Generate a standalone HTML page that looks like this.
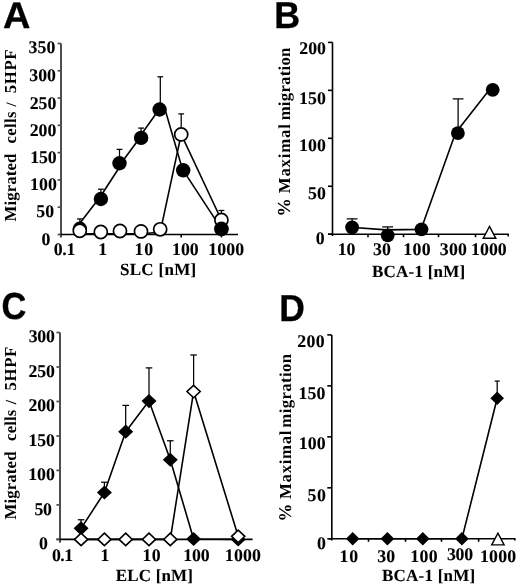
<!DOCTYPE html>
<html><head><meta charset="utf-8"><style>
html,body{margin:0;padding:0;background:#fff;}
body{width:520px;height:587px;overflow:hidden;}
svg{display:block;will-change:transform;}
text{fill:#000;text-rendering:geometricPrecision;}
</style></head><body>
<svg width="520" height="587" viewBox="0 0 520 587">
<rect width="520" height="587" fill="#fff"/>
<text transform="translate(3.08,27.78) scale(1.04,1.02)" font-size="36.5" font-family="&quot;Liberation Sans&quot;, sans-serif" font-weight="bold" stroke="#000" stroke-width="0.34">A</text>
<text transform="translate(15.5,221.39) rotate(-90)" font-size="16.8" letter-spacing="0.09" font-family="&quot;Liberation Serif&quot;, serif" font-weight="bold">Migrated</text>
<text transform="translate(15.5,143.47) rotate(-90)" font-size="16.8" letter-spacing="0.3" font-family="&quot;Liberation Serif&quot;, serif" font-weight="bold">cells</text>
<text transform="translate(15.5,106.56) rotate(-90)" font-size="14.44" letter-spacing="0" font-family="&quot;Liberation Serif&quot;, serif" font-weight="bold">/</text>
<text transform="translate(15.5,93.37) rotate(-90)" font-size="16.8" letter-spacing="0.66" font-family="&quot;Liberation Serif&quot;, serif" font-weight="bold">5HPF</text>
<line x1="79.9" y1="228.77" x2="79.9" y2="218.95" stroke="#000" stroke-width="1.25"/>
<line x1="77" y1="218.95" x2="82.8" y2="218.95" stroke="#000" stroke-width="1.25"/>
<line x1="100.9" y1="199.03" x2="100.9" y2="189.21" stroke="#000" stroke-width="1.25"/>
<line x1="98" y1="189.21" x2="103.8" y2="189.21" stroke="#000" stroke-width="1.25"/>
<line x1="119.5" y1="163.28" x2="119.5" y2="149.37" stroke="#000" stroke-width="1.25"/>
<line x1="116.6" y1="149.37" x2="122.4" y2="149.37" stroke="#000" stroke-width="1.25"/>
<line x1="141.1" y1="137.91" x2="141.1" y2="128.09" stroke="#000" stroke-width="1.25"/>
<line x1="138.2" y1="128.09" x2="144" y2="128.09" stroke="#000" stroke-width="1.25"/>
<line x1="160.3" y1="109.53" x2="160.3" y2="76.79" stroke="#000" stroke-width="1.25"/>
<line x1="157.4" y1="76.79" x2="163.2" y2="76.79" stroke="#000" stroke-width="1.25"/>
<line x1="181.2" y1="134.42" x2="181.2" y2="113.9" stroke="#000" stroke-width="1.25"/>
<line x1="178.3" y1="113.9" x2="184.1" y2="113.9" stroke="#000" stroke-width="1.25"/>
<line x1="221.4" y1="219.98" x2="221.4" y2="210.49" stroke="#000" stroke-width="1.25"/>
<line x1="218.5" y1="210.49" x2="224.3" y2="210.49" stroke="#000" stroke-width="1.25"/>
<line x1="61" y1="43.5" x2="61" y2="237.5" stroke="#4d4d4d" stroke-width="2.0"/>
<line x1="59.5" y1="234.5" x2="238" y2="234.5" stroke="#000" stroke-width="1.6"/>
<line x1="57.6" y1="234.5" x2="61" y2="234.5" stroke="#4d4d4d" stroke-width="1.7"/>
<line x1="57.6" y1="207.21" x2="61" y2="207.21" stroke="#4d4d4d" stroke-width="1.7"/>
<line x1="57.6" y1="179.93" x2="61" y2="179.93" stroke="#4d4d4d" stroke-width="1.7"/>
<line x1="57.6" y1="152.64" x2="61" y2="152.64" stroke="#4d4d4d" stroke-width="1.7"/>
<line x1="57.6" y1="125.36" x2="61" y2="125.36" stroke="#4d4d4d" stroke-width="1.7"/>
<line x1="57.6" y1="98.07" x2="61" y2="98.07" stroke="#4d4d4d" stroke-width="1.7"/>
<line x1="57.6" y1="70.79" x2="61" y2="70.79" stroke="#4d4d4d" stroke-width="1.7"/>
<line x1="57.6" y1="43.5" x2="61" y2="43.5" stroke="#4d4d4d" stroke-width="1.7"/>
<text x="28.53" y="53.43" font-size="17.8" letter-spacing="0.12" font-family="&quot;Liberation Serif&quot;, serif" font-weight="bold" stroke="#000" stroke-width="0.1">350</text>
<text x="29.23" y="81.43" font-size="17.8" letter-spacing="0.02" font-family="&quot;Liberation Serif&quot;, serif" font-weight="bold" stroke="#000" stroke-width="0.1">300</text>
<text x="29.75" y="108.93" font-size="17.8" letter-spacing="-0.04" font-family="&quot;Liberation Serif&quot;, serif" font-weight="bold" stroke="#000" stroke-width="0.1">250</text>
<text x="29.75" y="135.53" font-size="17.8" letter-spacing="-0.04" font-family="&quot;Liberation Serif&quot;, serif" font-weight="bold" stroke="#000" stroke-width="0.1">200</text>
<text x="30.27" y="162.93" font-size="17.8" letter-spacing="-0.2" font-family="&quot;Liberation Serif&quot;, serif" font-weight="bold" stroke="#000" stroke-width="0.1">150</text>
<text x="30.07" y="190.13" font-size="17.8" letter-spacing="0.05" font-family="&quot;Liberation Serif&quot;, serif" font-weight="bold" stroke="#000" stroke-width="0.1">100</text>
<text x="36.19" y="217.43" font-size="17.8" letter-spacing="0.29" font-family="&quot;Liberation Serif&quot;, serif" font-weight="bold" stroke="#000" stroke-width="0.1">50</text>
<text x="41.62" y="244.73" font-size="17.8" letter-spacing="0" font-family="&quot;Liberation Serif&quot;, serif" font-weight="bold" stroke="#000" stroke-width="0.1">0</text>
<line x1="100.8" y1="234.5" x2="100.8" y2="237.5" stroke="#000" stroke-width="1.6"/>
<line x1="141" y1="234.5" x2="141" y2="237.5" stroke="#000" stroke-width="1.6"/>
<line x1="181.2" y1="234.5" x2="181.2" y2="237.5" stroke="#000" stroke-width="1.6"/>
<line x1="221.4" y1="234.5" x2="221.4" y2="237.5" stroke="#000" stroke-width="1.6"/>
<text x="53.72" y="254.75" font-size="17.8" letter-spacing="-0.28" font-family="&quot;Liberation Serif&quot;, serif" font-weight="bold" stroke="#000" stroke-width="0.1">0.1</text>
<text x="98.17" y="255" font-size="17.8" letter-spacing="0" font-family="&quot;Liberation Serif&quot;, serif" font-weight="bold" stroke="#000" stroke-width="0.1">1</text>
<text x="134.47" y="254.83" font-size="17.8" letter-spacing="0.9" font-family="&quot;Liberation Serif&quot;, serif" font-weight="bold" stroke="#000" stroke-width="0.1">10</text>
<text x="172.07" y="254.83" font-size="17.8" letter-spacing="-0.05" font-family="&quot;Liberation Serif&quot;, serif" font-weight="bold" stroke="#000" stroke-width="0.1">100</text>
<text x="208.27" y="254.83" font-size="17.8" letter-spacing="0.07" font-family="&quot;Liberation Serif&quot;, serif" font-weight="bold" stroke="#000" stroke-width="0.1">1000</text>
<text x="119.9" y="275.33" font-size="17" letter-spacing="0.32" font-family="&quot;Liberation Serif&quot;, serif" font-weight="bold" stroke="#000" stroke-width="0.1">SLC [nM]</text>
<line x1="75.6" y1="228.8" x2="98.5" y2="199" stroke="#000" stroke-width="1.6"/>
<line x1="98.8" y1="199" x2="121.9" y2="163.5" stroke="#000" stroke-width="1.6"/>
<line x1="120.9" y1="163.5" x2="139.5" y2="138.2" stroke="#000" stroke-width="1.6"/>
<line x1="138.6" y1="138.2" x2="159.2" y2="109.3" stroke="#000" stroke-width="1.6"/>
<line x1="165" y1="109.3" x2="182.7" y2="170.1" stroke="#000" stroke-width="1.6"/>
<line x1="183.2" y1="170.32" x2="221.5" y2="228.82" stroke="#000" stroke-width="1.6"/>
<polyline points="79.78,233.7 100.8,233.7 119.98,233.7 141,233.7 160.18,232.3 181.2,134.42 221.4,219.98" fill="none" stroke="#000" stroke-width="1.6" stroke-linejoin="round"/>
<circle cx="79.9" cy="228.77" r="7.2" fill="#000"/>
<circle cx="100.9" cy="199.03" r="7.2" fill="#000"/>
<circle cx="119.5" cy="163.28" r="7.2" fill="#000"/>
<circle cx="141.1" cy="137.91" r="7.2" fill="#000"/>
<circle cx="159.6" cy="109.53" r="7.2" fill="#000"/>
<circle cx="183.2" cy="170.32" r="7.2" fill="#000"/>
<circle cx="221.5" cy="228.82" r="7.2" fill="#000"/>
<circle cx="79.78" cy="230.8" r="6.55" fill="#fff" stroke="#000" stroke-width="1.7"/>
<circle cx="100.8" cy="232" r="6.55" fill="#fff" stroke="#000" stroke-width="1.7"/>
<circle cx="119.98" cy="231" r="6.55" fill="#fff" stroke="#000" stroke-width="1.7"/>
<circle cx="141" cy="231.4" r="6.55" fill="#fff" stroke="#000" stroke-width="1.7"/>
<circle cx="160.18" cy="229.3" r="6.55" fill="#fff" stroke="#000" stroke-width="1.7"/>
<circle cx="181.2" cy="134.42" r="6.55" fill="#fff" stroke="#000" stroke-width="1.7"/>
<circle cx="221.4" cy="219.98" r="6.55" fill="#fff" stroke="#000" stroke-width="1.7"/>
<circle cx="221.4" cy="228.82" r="7.2" fill="#000"/>
<text transform="translate(274.19,28.07) scale(0.98,1.03)" font-size="36.5" font-family="&quot;Liberation Sans&quot;, sans-serif" font-weight="bold" stroke="#000" stroke-width="0.36">B</text>
<text transform="translate(289.8,216.58) rotate(-90)" font-size="18.29" letter-spacing="0" font-family="&quot;Liberation Serif&quot;, serif" font-weight="bold">%</text>
<text transform="translate(289.8,193.19) rotate(-90)" font-size="16.8" letter-spacing="0.78" font-family="&quot;Liberation Serif&quot;, serif" font-weight="bold">Maximal</text>
<text transform="translate(289.8,120.35) rotate(-90)" font-size="16.8" letter-spacing="0.24" font-family="&quot;Liberation Serif&quot;, serif" font-weight="bold">migration</text>
<line x1="352.1" y1="227.39" x2="352.1" y2="218.86" stroke="#000" stroke-width="1.25"/>
<line x1="346.7" y1="218.86" x2="357.5" y2="218.86" stroke="#000" stroke-width="1.25"/>
<line x1="387.7" y1="235.54" x2="387.7" y2="226.91" stroke="#000" stroke-width="1.25"/>
<line x1="382.3" y1="226.91" x2="393.1" y2="226.91" stroke="#000" stroke-width="1.25"/>
<line x1="458.1" y1="133.41" x2="458.1" y2="98.89" stroke="#000" stroke-width="1.25"/>
<line x1="452.7" y1="98.89" x2="463.5" y2="98.89" stroke="#000" stroke-width="1.25"/>
<line x1="332.5" y1="42.4" x2="332.5" y2="236" stroke="#000" stroke-width="1.6"/>
<line x1="328" y1="234.2" x2="509" y2="234.2" stroke="#000" stroke-width="1.6"/>
<line x1="328" y1="234.2" x2="332.5" y2="234.2" stroke="#000" stroke-width="1.6"/>
<line x1="328" y1="186.25" x2="332.5" y2="186.25" stroke="#000" stroke-width="1.6"/>
<line x1="328" y1="138.3" x2="332.5" y2="138.3" stroke="#000" stroke-width="1.6"/>
<line x1="328" y1="90.35" x2="332.5" y2="90.35" stroke="#000" stroke-width="1.6"/>
<line x1="328" y1="42.4" x2="332.5" y2="42.4" stroke="#000" stroke-width="1.6"/>
<text x="299.35" y="54.43" font-size="17.8" letter-spacing="-0.04" font-family="&quot;Liberation Serif&quot;, serif" font-weight="bold" stroke="#000" stroke-width="0.1">200</text>
<text x="299.07" y="103.83" font-size="17.8" letter-spacing="0.1" font-family="&quot;Liberation Serif&quot;, serif" font-weight="bold" stroke="#000" stroke-width="0.1">150</text>
<text x="299.07" y="151.03" font-size="17.8" letter-spacing="0.1" font-family="&quot;Liberation Serif&quot;, serif" font-weight="bold" stroke="#000" stroke-width="0.1">100</text>
<text x="308.09" y="199.43" font-size="17.8" letter-spacing="0.09" font-family="&quot;Liberation Serif&quot;, serif" font-weight="bold" stroke="#000" stroke-width="0.1">50</text>
<text x="315.72" y="244.03" font-size="17.8" letter-spacing="0" font-family="&quot;Liberation Serif&quot;, serif" font-weight="bold" stroke="#000" stroke-width="0.1">0</text>
<line x1="368" y1="234.2" x2="368" y2="237.2" stroke="#000" stroke-width="1.6"/>
<line x1="403.5" y1="234.2" x2="403.5" y2="237.2" stroke="#000" stroke-width="1.6"/>
<line x1="438.5" y1="234.2" x2="438.5" y2="237.2" stroke="#000" stroke-width="1.6"/>
<line x1="475.5" y1="234.2" x2="475.5" y2="237.2" stroke="#000" stroke-width="1.6"/>
<line x1="508.2" y1="234.2" x2="508.2" y2="236.4" stroke="#000" stroke-width="1.6"/>
<text x="337.87" y="255.43" font-size="17.8" letter-spacing="-0.3" font-family="&quot;Liberation Serif&quot;, serif" font-weight="bold" stroke="#000" stroke-width="0.1">10</text>
<text x="372.93" y="255.43" font-size="17.8" letter-spacing="0.25" font-family="&quot;Liberation Serif&quot;, serif" font-weight="bold" stroke="#000" stroke-width="0.1">30</text>
<text x="403.27" y="255.43" font-size="17.8" letter-spacing="0.4" font-family="&quot;Liberation Serif&quot;, serif" font-weight="bold" stroke="#000" stroke-width="0.1">100</text>
<text x="439.83" y="255.43" font-size="17.8" letter-spacing="0.17" font-family="&quot;Liberation Serif&quot;, serif" font-weight="bold" stroke="#000" stroke-width="0.1">300</text>
<text x="471.07" y="255.43" font-size="17.8" letter-spacing="0.03" font-family="&quot;Liberation Serif&quot;, serif" font-weight="bold" stroke="#000" stroke-width="0.1">1000</text>
<text x="371.92" y="276.83" font-size="17" letter-spacing="0.24" font-family="&quot;Liberation Serif&quot;, serif" font-weight="bold" stroke="#000" stroke-width="0.1">BCA-1 [nM]</text>
<polyline points="351,227.3 386,229.9 421,229.4 455.5,133.1 489.4,89.8" fill="none" stroke="#000" stroke-width="1.6" stroke-linejoin="round"/>
<circle cx="352.1" cy="227.3" r="6.9" fill="#000"/>
<circle cx="387.7" cy="235.3" r="6.9" fill="#000"/>
<circle cx="421.5" cy="229.3" r="6.9" fill="#000"/>
<circle cx="457.9" cy="133.1" r="6.9" fill="#000"/>
<circle cx="492.7" cy="89.8" r="6.9" fill="#000"/>
<polygon points="489.5,226.4 495.8,238.3 483.2,238.3" fill="#fff" stroke="#000" stroke-width="1.4" stroke-linejoin="miter"/>
<text transform="translate(1.62,318.81) scale(0.94,1.03)" font-size="36.5" font-family="&quot;Liberation Sans&quot;, sans-serif" font-weight="bold" stroke="#000" stroke-width="0.37">C</text>
<text transform="translate(15.8,519.59) rotate(-90)" font-size="16.8" letter-spacing="0.14" font-family="&quot;Liberation Serif&quot;, serif" font-weight="bold">Migrated</text>
<text transform="translate(15.8,440.97) rotate(-90)" font-size="16.8" letter-spacing="0.15" font-family="&quot;Liberation Serif&quot;, serif" font-weight="bold">cells</text>
<text transform="translate(15.8,404.25) rotate(-90)" font-size="15.44" letter-spacing="0" font-family="&quot;Liberation Serif&quot;, serif" font-weight="bold">/</text>
<text transform="translate(15.8,390.57) rotate(-90)" font-size="16.8" letter-spacing="0.66" font-family="&quot;Liberation Serif&quot;, serif" font-weight="bold">5HPF</text>
<line x1="81.08" y1="528.37" x2="81.08" y2="519.74" stroke="#000" stroke-width="1.25"/>
<line x1="77.78" y1="519.74" x2="84.38" y2="519.74" stroke="#000" stroke-width="1.25"/>
<line x1="104.4" y1="492.5" x2="104.4" y2="482.23" stroke="#000" stroke-width="1.25"/>
<line x1="101.1" y1="482.23" x2="107.7" y2="482.23" stroke="#000" stroke-width="1.25"/>
<line x1="125.68" y1="431.67" x2="125.68" y2="405.4" stroke="#000" stroke-width="1.25"/>
<line x1="122.38" y1="405.4" x2="128.98" y2="405.4" stroke="#000" stroke-width="1.25"/>
<line x1="149" y1="401.05" x2="149" y2="367.88" stroke="#000" stroke-width="1.25"/>
<line x1="145.7" y1="367.88" x2="152.3" y2="367.88" stroke="#000" stroke-width="1.25"/>
<line x1="170.28" y1="459.74" x2="170.28" y2="440.78" stroke="#000" stroke-width="1.25"/>
<line x1="166.98" y1="440.78" x2="173.58" y2="440.78" stroke="#000" stroke-width="1.25"/>
<line x1="193.6" y1="391.54" x2="193.6" y2="354.98" stroke="#000" stroke-width="1.25"/>
<line x1="190.3" y1="354.98" x2="196.9" y2="354.98" stroke="#000" stroke-width="1.25"/>
<line x1="60" y1="332.5" x2="60" y2="542.8" stroke="#4d4d4d" stroke-width="2.0"/>
<line x1="56.5" y1="539.4" x2="252.6" y2="539.4" stroke="#000" stroke-width="1.6"/>
<line x1="56.4" y1="539.4" x2="60" y2="539.4" stroke="#4d4d4d" stroke-width="1.7"/>
<line x1="56.4" y1="504.92" x2="60" y2="504.92" stroke="#4d4d4d" stroke-width="1.7"/>
<line x1="56.4" y1="470.43" x2="60" y2="470.43" stroke="#4d4d4d" stroke-width="1.7"/>
<line x1="56.4" y1="435.95" x2="60" y2="435.95" stroke="#4d4d4d" stroke-width="1.7"/>
<line x1="56.4" y1="401.47" x2="60" y2="401.47" stroke="#4d4d4d" stroke-width="1.7"/>
<line x1="56.4" y1="366.98" x2="60" y2="366.98" stroke="#4d4d4d" stroke-width="1.7"/>
<line x1="56.4" y1="332.5" x2="60" y2="332.5" stroke="#4d4d4d" stroke-width="1.7"/>
<text x="28.63" y="342.43" font-size="17.8" letter-spacing="-0.23" font-family="&quot;Liberation Serif&quot;, serif" font-weight="bold" stroke="#000" stroke-width="0.1">300</text>
<text x="28.55" y="376.63" font-size="17.8" letter-spacing="-0.19" font-family="&quot;Liberation Serif&quot;, serif" font-weight="bold" stroke="#000" stroke-width="0.1">250</text>
<text x="28.55" y="411.43" font-size="17.8" letter-spacing="-0.19" font-family="&quot;Liberation Serif&quot;, serif" font-weight="bold" stroke="#000" stroke-width="0.1">200</text>
<text x="28.47" y="446.13" font-size="17.8" letter-spacing="-0.15" font-family="&quot;Liberation Serif&quot;, serif" font-weight="bold" stroke="#000" stroke-width="0.1">150</text>
<text x="28.17" y="480.43" font-size="17.8" letter-spacing="0" font-family="&quot;Liberation Serif&quot;, serif" font-weight="bold" stroke="#000" stroke-width="0.1">100</text>
<text x="34.49" y="515.03" font-size="17.8" letter-spacing="-0.41" font-family="&quot;Liberation Serif&quot;, serif" font-weight="bold" stroke="#000" stroke-width="0.1">50</text>
<text x="39.02" y="549.23" font-size="17.8" letter-spacing="0" font-family="&quot;Liberation Serif&quot;, serif" font-weight="bold" stroke="#000" stroke-width="0.1">0</text>
<line x1="104.4" y1="539.4" x2="104.4" y2="542.4" stroke="#000" stroke-width="1.6"/>
<line x1="149" y1="539.4" x2="149" y2="542.4" stroke="#000" stroke-width="1.6"/>
<line x1="193.6" y1="539.4" x2="193.6" y2="542.4" stroke="#000" stroke-width="1.6"/>
<line x1="238.2" y1="539.4" x2="238.2" y2="542.4" stroke="#000" stroke-width="1.6"/>
<text x="52.02" y="560.55" font-size="17.8" letter-spacing="-0.58" font-family="&quot;Liberation Serif&quot;, serif" font-weight="bold" stroke="#000" stroke-width="0.1">0.1</text>
<text x="100.57" y="560.8" font-size="17.8" letter-spacing="0" font-family="&quot;Liberation Serif&quot;, serif" font-weight="bold" stroke="#000" stroke-width="0.1">1</text>
<text x="142.57" y="560.63" font-size="17.8" letter-spacing="0.3" font-family="&quot;Liberation Serif&quot;, serif" font-weight="bold" stroke="#000" stroke-width="0.1">10</text>
<text x="183.17" y="560.63" font-size="17.8" letter-spacing="-0.05" font-family="&quot;Liberation Serif&quot;, serif" font-weight="bold" stroke="#000" stroke-width="0.1">100</text>
<text x="224.87" y="560.63" font-size="17.8" letter-spacing="0.13" font-family="&quot;Liberation Serif&quot;, serif" font-weight="bold" stroke="#000" stroke-width="0.1">1000</text>
<text x="115.81" y="580.73" font-size="17" letter-spacing="0.16" font-family="&quot;Liberation Serif&quot;, serif" font-weight="bold" stroke="#000" stroke-width="0.1">ELC [nM]</text>
<polyline points="81.08,528.37 104.4,492.5 125.68,431.67 149,401.05 170.28,459.74 193.6,538.99 238.2,539.4" fill="none" stroke="#000" stroke-width="1.6" stroke-linejoin="round"/>
<polyline points="81.08,539.4 104.4,539.4 125.68,539.4 149,539.4 170.28,539.4 193.6,391.54 238.2,536.3" fill="none" stroke="#000" stroke-width="1.6" stroke-linejoin="round"/>
<polygon points="81.08,521.27 88.58,528.37 81.08,535.47 73.58,528.37" fill="#000"/>
<polygon points="104.4,485.4 111.9,492.5 104.4,499.6 96.9,492.5" fill="#000"/>
<polygon points="125.68,424.57 133.18,431.67 125.68,438.77 118.18,431.67" fill="#000"/>
<polygon points="149,393.95 156.5,401.05 149,408.15 141.5,401.05" fill="#000"/>
<polygon points="170.28,452.64 177.78,459.74 170.28,466.84 162.78,459.74" fill="#000"/>
<polygon points="193.6,531.89 201.1,538.99 193.6,546.09 186.1,538.99" fill="#000"/>
<polygon points="238.2,532.3 245.7,539.4 238.2,546.5 230.7,539.4" fill="#000"/>
<polygon points="81.08,533.2 87.68,539.4 81.08,545.6 74.48,539.4" fill="#fff" stroke="#000" stroke-width="1.6" stroke-linejoin="miter"/>
<polygon points="104.4,533.2 111,539.4 104.4,545.6 97.8,539.4" fill="#fff" stroke="#000" stroke-width="1.6" stroke-linejoin="miter"/>
<polygon points="125.68,533.2 132.28,539.4 125.68,545.6 119.08,539.4" fill="#fff" stroke="#000" stroke-width="1.6" stroke-linejoin="miter"/>
<polygon points="149,533.2 155.6,539.4 149,545.6 142.4,539.4" fill="#fff" stroke="#000" stroke-width="1.6" stroke-linejoin="miter"/>
<polygon points="170.28,533.2 176.88,539.4 170.28,545.6 163.68,539.4" fill="#fff" stroke="#000" stroke-width="1.6" stroke-linejoin="miter"/>
<polygon points="193.6,385.34 200.2,391.54 193.6,397.74 187,391.54" fill="#fff" stroke="#000" stroke-width="1.6" stroke-linejoin="miter"/>
<polygon points="238.2,530.1 244.8,536.3 238.2,542.5 231.6,536.3" fill="#fff" stroke="#000" stroke-width="1.6" stroke-linejoin="miter"/>
<text transform="translate(279.25,320.93) scale(0.97,1.03)" font-size="36.5" font-family="&quot;Liberation Sans&quot;, sans-serif" font-weight="bold" stroke="#000" stroke-width="0.36">D</text>
<text transform="translate(290.9,521.54) rotate(-90)" font-size="17.92" letter-spacing="0" font-family="&quot;Liberation Serif&quot;, serif" font-weight="bold">%</text>
<text transform="translate(290.9,498.89) rotate(-90)" font-size="16.8" letter-spacing="0.66" font-family="&quot;Liberation Serif&quot;, serif" font-weight="bold">Maximal</text>
<text transform="translate(290.9,427.65) rotate(-90)" font-size="16.8" letter-spacing="0.36" font-family="&quot;Liberation Serif&quot;, serif" font-weight="bold">migration</text>
<line x1="497.2" y1="398.31" x2="497.2" y2="381.08" stroke="#000" stroke-width="1.25"/>
<line x1="494.7" y1="381.08" x2="499.7" y2="381.08" stroke="#000" stroke-width="1.25"/>
<line x1="331.8" y1="334.9" x2="331.8" y2="540.6" stroke="#000" stroke-width="1.6"/>
<line x1="328.8" y1="538.8" x2="515.5" y2="538.8" stroke="#000" stroke-width="1.6"/>
<line x1="327.3" y1="538.8" x2="331.8" y2="538.8" stroke="#000" stroke-width="1.6"/>
<line x1="327.3" y1="487.82" x2="331.8" y2="487.82" stroke="#000" stroke-width="1.6"/>
<line x1="327.3" y1="436.85" x2="331.8" y2="436.85" stroke="#000" stroke-width="1.6"/>
<line x1="327.3" y1="385.88" x2="331.8" y2="385.88" stroke="#000" stroke-width="1.6"/>
<line x1="327.3" y1="334.9" x2="331.8" y2="334.9" stroke="#000" stroke-width="1.6"/>
<text x="297.35" y="347.03" font-size="17.8" letter-spacing="0.26" font-family="&quot;Liberation Serif&quot;, serif" font-weight="bold" stroke="#000" stroke-width="0.1">200</text>
<text x="298.47" y="398.53" font-size="17.8" letter-spacing="0.1" font-family="&quot;Liberation Serif&quot;, serif" font-weight="bold" stroke="#000" stroke-width="0.1">150</text>
<text x="298.77" y="449.03" font-size="17.8" letter-spacing="0.15" font-family="&quot;Liberation Serif&quot;, serif" font-weight="bold" stroke="#000" stroke-width="0.1">100</text>
<text x="307.49" y="500.63" font-size="17.8" letter-spacing="0.59" font-family="&quot;Liberation Serif&quot;, serif" font-weight="bold" stroke="#000" stroke-width="0.1">50</text>
<text x="317.12" y="549.23" font-size="17.8" letter-spacing="0" font-family="&quot;Liberation Serif&quot;, serif" font-weight="bold" stroke="#000" stroke-width="0.1">0</text>
<line x1="368.5" y1="538.8" x2="368.5" y2="541.8" stroke="#000" stroke-width="1.6"/>
<line x1="405.5" y1="538.8" x2="405.5" y2="541.8" stroke="#000" stroke-width="1.6"/>
<line x1="441.5" y1="538.8" x2="441.5" y2="541.8" stroke="#000" stroke-width="1.6"/>
<line x1="478.6" y1="538.8" x2="478.6" y2="541.8" stroke="#000" stroke-width="1.6"/>
<line x1="514.8" y1="538.8" x2="514.8" y2="540.6" stroke="#000" stroke-width="1.6"/>
<text x="339.47" y="562.33" font-size="17.8" letter-spacing="1" font-family="&quot;Liberation Serif&quot;, serif" font-weight="bold" stroke="#000" stroke-width="0.1">10</text>
<text x="377.13" y="562.33" font-size="17.8" letter-spacing="0.25" font-family="&quot;Liberation Serif&quot;, serif" font-weight="bold" stroke="#000" stroke-width="0.1">30</text>
<text x="410.27" y="562.23" font-size="17.8" letter-spacing="0.35" font-family="&quot;Liberation Serif&quot;, serif" font-weight="bold" stroke="#000" stroke-width="0.1">100</text>
<text x="446.93" y="560.43" font-size="17.8" letter-spacing="-0.28" font-family="&quot;Liberation Serif&quot;, serif" font-weight="bold" stroke="#000" stroke-width="0.1">300</text>
<text x="479.97" y="562.23" font-size="17.8" letter-spacing="0.2" font-family="&quot;Liberation Serif&quot;, serif" font-weight="bold" stroke="#000" stroke-width="0.1">1000</text>
<text x="381.92" y="581.23" font-size="17" letter-spacing="0.24" font-family="&quot;Liberation Serif&quot;, serif" font-weight="bold" stroke="#000" stroke-width="0.1">BCA-1 [nM]</text>
<polyline points="352.7,538.8 387.4,538.8 422.8,538.8 461.9,538.8 497.2,398.31" fill="none" stroke="#000" stroke-width="1.6" stroke-linejoin="round"/>
<polygon points="352.7,532 359.5,538.8 352.7,545.6 345.9,538.8" fill="#000"/>
<polygon points="387.4,532 394.2,538.8 387.4,545.6 380.6,538.8" fill="#000"/>
<polygon points="422.8,532 429.6,538.8 422.8,545.6 416,538.8" fill="#000"/>
<polygon points="461.9,532 468.7,538.8 461.9,545.6 455.1,538.8" fill="#000"/>
<polygon points="497.2,391.51 504,398.31 497.2,405.11 490.4,398.31" fill="#000"/>
<polygon points="497.9,533.2 504.1,544.9 491.7,544.9" fill="#fff" stroke="#000" stroke-width="1.4" stroke-linejoin="miter"/>
</svg>
</body></html>
